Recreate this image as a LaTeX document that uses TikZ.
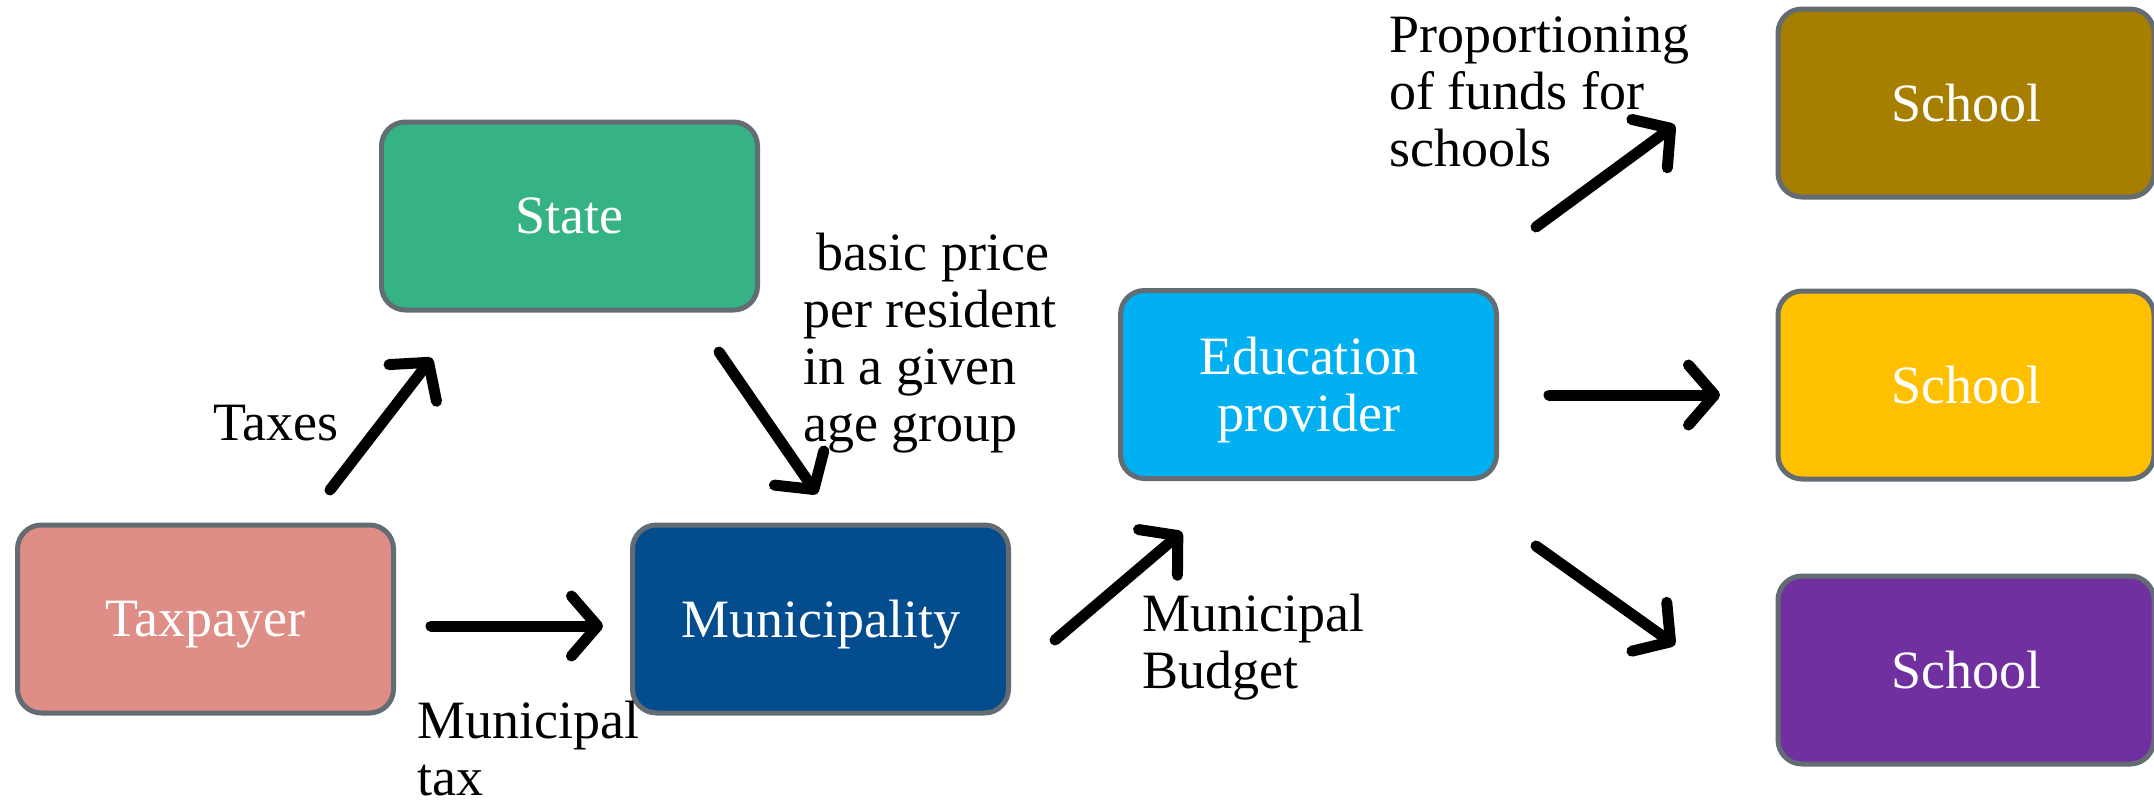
\documentclass[tikz,border=0pt]{standalone}
\usepackage{fontspec}
\setmainfont{Liberation Serif}
\usetikzlibrary{arrows.meta}
\definecolor{statecol}{HTML}{36B384}
\definecolor{payercol}{HTML}{DE8E87}
\definecolor{municol}{HTML}{034D8E}
\definecolor{educol}{HTML}{00B0F0}
\definecolor{schoola}{HTML}{A67F00}
\definecolor{schoolb}{HTML}{FFC000}
\definecolor{schoolc}{HTML}{7030A0}
\definecolor{edgecol}{HTML}{636B73}
\newcommand{\boxfont}{\fontsize{27}{28.5}\selectfont}

\begin{document}
\begin{tikzpicture}[x=.5pt,y=-.5pt,
    block/.style={draw=edgecol, line width=2.5pt, rounded corners=12pt,
      minimum width=188pt, minimum height=94pt, text=white, align=center,
      text depth=0pt, font=\boxfont},
    lbl/.style={anchor=north west, inner sep=0pt, align=left, font=\boxfont},
    flow/.style={line width=5.5pt, line cap=round,
      -{Straight Barb[length=13pt,width=30pt,round]}}]
  \useasboundingbox (0,0) rectangle (2154,804);
      % boxes
  \node (state) at (569.5,216) [block, fill=statecol] {State};
  \node (payer) at (205.5,619) [block, fill=payercol] {Taxpayer};
  \node (muni) at (820.5,619) [block, fill=municol] {Municipality};
  \node (edu) at (1308.5,384.5) [block, fill=educol] {Education\\provider};
  \foreach \k/\y/\c in {1/103/schoola,2/385/schoolb,3/670/schoolc}
  {
    \node (school\k) at (1966,\y) [block, fill=\c] {School};
  }
      % arrow ends
  \coordinate (taxA) at (330,490);   \coordinate (taxB) at (432,358);
  \coordinate (priceA) at (719,352); \coordinate (priceB) at (817,494);
  \coordinate (mtaxA) at (431,626);  \coordinate (mtaxB) at (603,626);
  \coordinate (budA) at (1055,640);  \coordinate (budB) at (1182,532);
  \foreach \k/\xa/\ya/\xb/\yb in {1/1536/227/1675/125,2/1549/395/1720/395,3/1536/546/1675/645}
  {
    \coordinate (propA\k) at (\xa,\ya);
    \coordinate (propB\k) at (\xb,\yb);
  }
  \draw[flow] (taxA) -- (taxB);
  \draw[flow] (priceA) -- (priceB);
  \draw[flow] (mtaxA) -- (mtaxB);
  \draw[flow] (budA) -- (budB);
  \foreach \k in {1,2,3}
    \draw[flow] (propA\k) -- (propB\k);
      % labels
  \node (taxes) at (213,405) [lbl] {Taxes};
  \node (price) at (803,233) [lbl] {\ basic price\\per resident\\in a given\\age group};
  \node (mtax) at (417,701) [lbl] {Municipal\\tax};
  \node (mbudget) at (1142,594) [lbl] {Municipal\\Budget};
  \node (prop) at (1389,16) [lbl] {Proportioning\\of funds for\\schools};
\end{tikzpicture}
\end{document}
